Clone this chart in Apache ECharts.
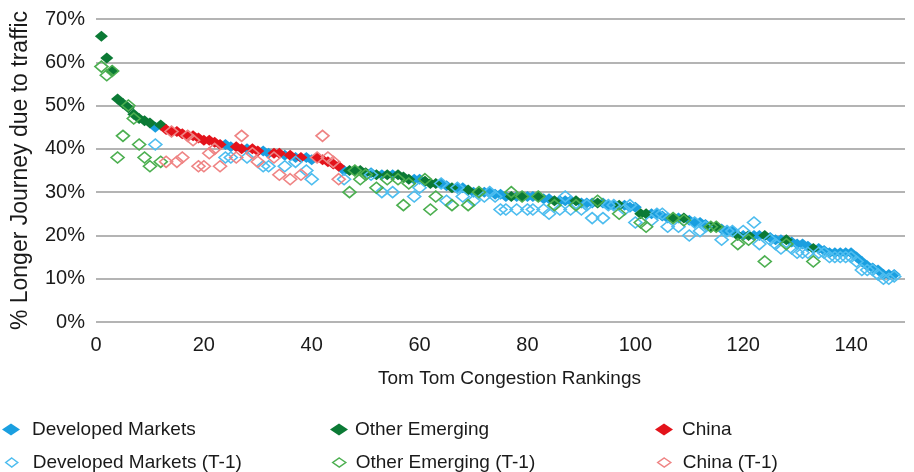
<!DOCTYPE html>
<html>
<head>
<meta charset="utf-8">
<script src="https://cdn.jsdelivr.net/npm/echarts@6/dist/echarts.min.js"></script>
<style>html,body{margin:0;padding:0;background:#fff;}#c{width:914px;height:472px;}</style>
</head>
<body>
<div id="c"></div>
<script>
// ---- Data ----
const yTicks = [0, 10, 20, 30, 40, 50, 60, 70];
const xTicks = [0, 20, 40, 60, 80, 100, 120, 140];

const devRank = [11,24,25,28,31,32,35,37,39,40,46,51,53,55,59,60,64,65,67,68,70,72,73,74,75,76,78,80,81,83,84,86,87,88,90,91,92,94,95,96,98,99,100,103,104,105,106,108,110,111,112,113,116,117,118,120,122,123,125,126,127,129,130,131,132,134,135,136,137,138,139,140,141,142,143,144,145,146,147,148];
const devNow  = [45,41,40.5,40,39.5,39,38.5,38,38,37.5,35,34.5,34,34,33,33,32,31.5,31,31,30,30,30,29.5,29.5,29,29,29,29,28.5,28.5,28,28,28,27.5,27.5,27.5,27.5,27,27,27,26.5,26.5,25,25,24.5,24,24,23.5,23,23,22.5,21.5,21,21,20,20,20,19.5,19,19,18.5,18,18,17.5,17,16.5,16,16,16,16,16,15,14,13,12.5,12,11,11,11];
const devPrev = [41,38,38,38,36,36,36,37,35,33,33,34,30,30,29,31,32,28,31,29,28,29,30,29,26,26,26,26,26,26,25,26,29,26,26,27,24,24,27,27,26,27,23,23.5,25,25,22,22,20,23,21,22,19,21,21,21,23,18,19,18,17,17,16,16,16,16,16,15,15,15,15,15,14,12,12,12,11,10,10,10.5];

const emgRank = [1,2,3,4,5,6,7,8,9,10,12,47,48,49,50,52,54,56,57,58,61,62,63,66,69,71,77,79,82,85,89,93,97,101,102,107,109,114,115,119,121,124,128,133];
const emgNow  = [66,61,58,51.5,50.5,49.5,48,47,46.5,46,45.5,35,35,35,34.5,34,34,34,33.5,33,32.5,32,32,31,30.5,30,29,29,29,28,28,27.5,27,25,25,24,24,22,22,20,20,20,19,17];
const emgPrev = [59,57,58,38,43,50,47,41,38,36,37,30,35,33,34,31,33,33,27,32,33,26,29,27,27,30,30,29,29,27,27,28,25,23,22,24,23.5,22,22,18,19,14,18,14];

const chnRank = [13,14,15,16,17,18,19,20,21,22,23,26,27,29,30,33,34,36,38,41,42,43,44,45];
const chnNow  = [44.5,44,44,43.5,43,43,42.5,42,42,41.5,41,40.5,40,40,39.5,39,39,38.5,38,38,37.5,37,36.5,36];
const chnPrev = [37,44,37,38,43,42,36,36,39,40,36,38,43,39,37,38,34,33,34,38,43,38,37,33];

const names = ['Developed Markets','Other Emerging','China','Developed Markets (T-1)','Other Emerging (T-1)','China (T-1)'];
const colors = ['#1A9FE0','#0B7A35','#E3131B','#4EBDEF','#4CAF50','#EF8484'];

// ---- Build ----
const pts = (r, v) => r.map((x, i) => [x, v[i]]);
const FONT = 'Liberation Sans';
const TXT = '#1a1a1a';

function filled(name, color, data) {
  return { name, type: 'scatter', data, symbol: 'diamond', symbolSize: [13, 11],
    itemStyle: { color: color, opacity: 1 }, z: 2 };
}
function hollow(name, color, data) {
  return { name, type: 'scatter', data, symbol: 'diamond', symbolSize: [13, 11],
    itemStyle: { color: 'rgba(255,255,255,0)', borderColor: color, borderWidth: 1.6, opacity: 1 }, z: 3 };
}

const series = [
  filled(names[0], colors[0], pts(devRank, devNow)),
  filled(names[1], colors[1], pts(emgRank, emgNow)),
  filled(names[2], colors[2], pts(chnRank, chnNow)),
  hollow(names[3], colors[3], pts(devRank, devPrev)),
  hollow(names[4], colors[4], pts(emgRank, emgPrev)),
  hollow(names[5], colors[5], pts(chnRank, chnPrev))
];

function leg(i, left, top, w, h, pad) {
  const isHollow = i >= 3;
  return {
    left: left, top: top, itemWidth: w, itemHeight: h, padding: 0,
    selectedMode: false,
    data: [{ name: names[i], icon: 'diamond',
      itemStyle: isHollow ? { color: 'rgba(255,255,255,0)', borderColor: colors[i], borderWidth: 1.5 }
                          : { color: colors[i], borderWidth: 0 } }],
    textStyle: { fontFamily: FONT, fontSize: 19, color: TXT, padding: [0, 0, 0, pad] }
  };
}

const option = {
  animation: false,
  backgroundColor: '#fff',
  grid: { left: 96, right: 9, top: 19, bottom: 150, containLabel: false },
  xAxis: {
    type: 'value', min: xTicks[0], max: 150, interval: 20,
    name: 'Tom Tom Congestion Rankings', nameLocation: 'middle', nameGap: 47,
    nameTextStyle: { fontFamily: FONT, fontSize: 19, color: TXT, padding: [0, 0, 0, 18] },
    axisLine: { show: false }, axisTick: { show: false }, splitLine: { show: false },
    axisLabel: { fontFamily: FONT, fontSize: 20, color: TXT, margin: 13, showMaxLabel: false,
      formatter: v => (xTicks.indexOf(v) >= 0 ? String(v) : '') }
  },
  yAxis: {
    type: 'value', min: yTicks[0], max: 70, interval: 10,
    name: '% Longer Journey due to traffic', nameLocation: 'middle', nameGap: 64, nameRotate: 90,
    nameTextStyle: { fontFamily: FONT, fontSize: 23, color: TXT },
    axisLine: { show: false }, axisTick: { show: false },
    splitLine: { show: true, lineStyle: { color: '#9B9B9B', width: 1.5 } },
    axisLabel: { fontFamily: FONT, fontSize: 20, color: TXT, margin: 11,
      formatter: v => v + '%' }
  },
  legend: [
    leg(0, 2, 420, 18, 12, 7),
    leg(1, 330, 420, 18, 12, 2),
    leg(2, 655, 420, 18, 12, 4),
    leg(3, 5, 453, 12, 9, 10),
    leg(4, 332, 453, 13, 9, 5),
    leg(5, 657, 453, 13, 9, 7)
  ],
  series: series
};

const chart = echarts.init(document.getElementById('c'), null, { renderer: 'canvas' });
chart.setOption(option);
</script>
</body>
</html>
